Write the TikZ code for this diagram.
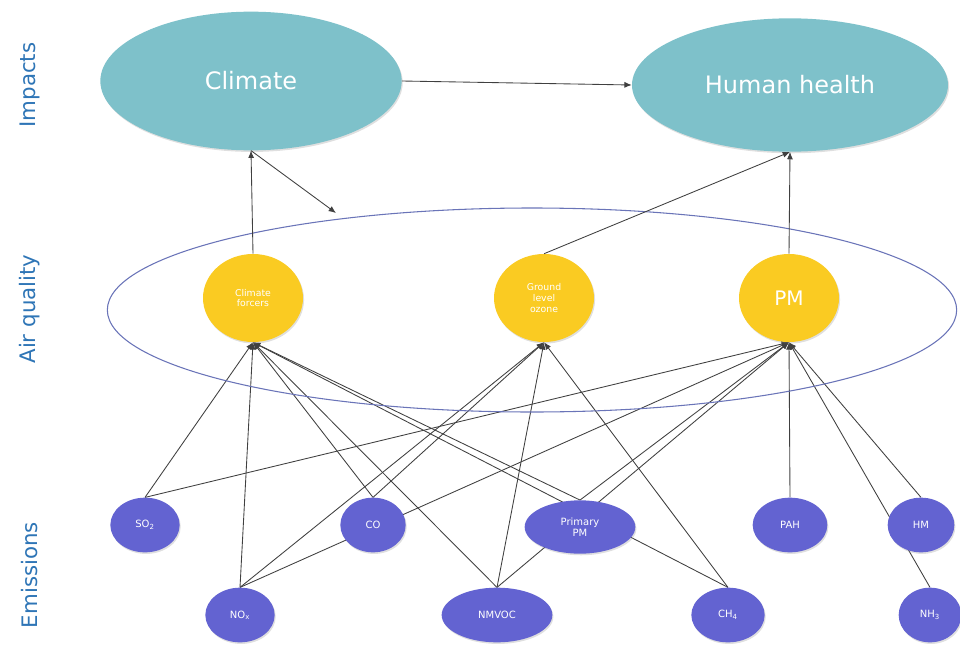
\documentclass[tikz,border=0pt]{standalone}
\usepackage{fontspec}
\setmainfont{DejaVu Sans}
\usetikzlibrary{shapes.geometric,arrows.meta,backgrounds,shadows}
\definecolor{aqTeal}{HTML}{7EC1CA}
\definecolor{aqYellow}{HTML}{FACB22}
\definecolor{aqPurple}{HTML}{6363D1}
\definecolor{aqRing}{HTML}{6A74B8}
\definecolor{aqLabel}{HTML}{2E75B6}

\begin{document}
\begin{tikzpicture}[
    x=0.75pt, y=-0.75pt,
    softshadow/.style = {drop shadow={opacity=0.25, shadow xshift=0.8pt, shadow yshift=-1.2pt}},
    impact/.style   = {ellipse, fill=aqTeal, text=white, inner sep=0pt, softshadow,
                       font=\fontsize{18}{20}\selectfont},
    quality/.style  = {ellipse, fill=aqYellow, text=white, inner sep=0pt, align=center,
                       minimum width=75pt, minimum height=66pt, softshadow,
                       font=\fontsize{7}{8}\selectfont},
    emis/.style     = {ellipse, fill=aqPurple, text=white, inner sep=0pt, align=center,
                       minimum height=41pt, softshadow, font=\fontsize{7.5}{8.5}\selectfont},
    ring/.style     = {ellipse, draw=aqRing, line width=0.8pt, inner sep=0pt,
                       minimum width=637pt, minimum height=153pt},
    rowlbl/.style   = {rotate=90, text=aqLabel, font=\fontsize{16}{18}\selectfont},
    link/.style     = {draw=black!75, line width=0.65pt, -{Latex[length=5.5pt,width=4.5pt]}}
  ]
  \useasboundingbox (0,0) rectangle (960,646);

  %% Row labels on the left
  \node[rowlbl] (lblimp) at (30,85)  {Impacts};
  \node[rowlbl] (lblaq)  at (30,309) {Air quality};
  \node[rowlbl] (lblem)  at (30,575) {Emissions};

  %% Impacts
  \node[impact, minimum width=226pt, minimum height=104pt] (climate) at (251,81) {Climate};
  \node[impact, minimum width=237pt, minimum height=100pt] (health)  at (790,85) {Human health};

  %% Air quality ring and its three members
  \node[ring] (aq) at (532,310) {};
  \coordinate (aqtip) at (336,213);
  \node[quality] (cf)  at (253,298) {Climate\\forcers};
  \node[quality] (glo) at (544,298) {Ground\\level\\ozone};
  \node[quality, font=\fontsize{15}{17}\selectfont] (pm) at (789,298) {PM};

  %% Emissions: upper row
  \node[emis, minimum width=52pt] (so2) at (145,525) {SO\textsubscript{2}};
  \node[emis, minimum width=49pt] (co)  at (373,525) {CO};
  \node[emis, minimum width=83pt, minimum height=40pt] (ppm) at (580,527) {Primary\\PM};
  \node[emis, minimum width=56pt] (pah) at (790,525) {PAH};
  \node[emis, minimum width=50pt] (hm)  at (921,525) {HM};
  %% Emissions: lower row
  \node[emis, minimum width=52pt] (nox)   at (240,615) {NO\textsubscript{x}};
  \node[emis, minimum width=83pt] (nmvoc) at (497,615) {NMVOC};
  \node[emis, minimum width=55pt] (ch4)   at (728,615) {CH\textsubscript{4}};
  \node[emis, minimum width=47pt] (nh3)   at (930,615) {NH\textsubscript{3}};

  %% Emission links go behind the ovals
  \begin{scope}[on background layer]
    \foreach \src/\dst in {so2/cf, nox/cf, co/cf, nmvoc/cf, ppm/cf, ch4/cf,
                           nox/glo, co/glo, nmvoc/glo, ch4/glo,
                           so2/pm, nox/pm, nmvoc/pm, ppm/pm, pah/pm, hm/pm, nh3/pm}{
      \draw[link] (\src.north) -- (\dst.south);
    }
  \end{scope}

  %% Links up to the impacts
  \draw[link] (cf.north) -- (climate.south);
  \draw[link] (climate.south) -- (aqtip);
  \draw[link] (climate.east) -- (health.west);
  \draw[link] (glo.north) -- (health.south);
  \draw[link] (pm.north) -- (health.south);
\end{tikzpicture}
\end{document}
